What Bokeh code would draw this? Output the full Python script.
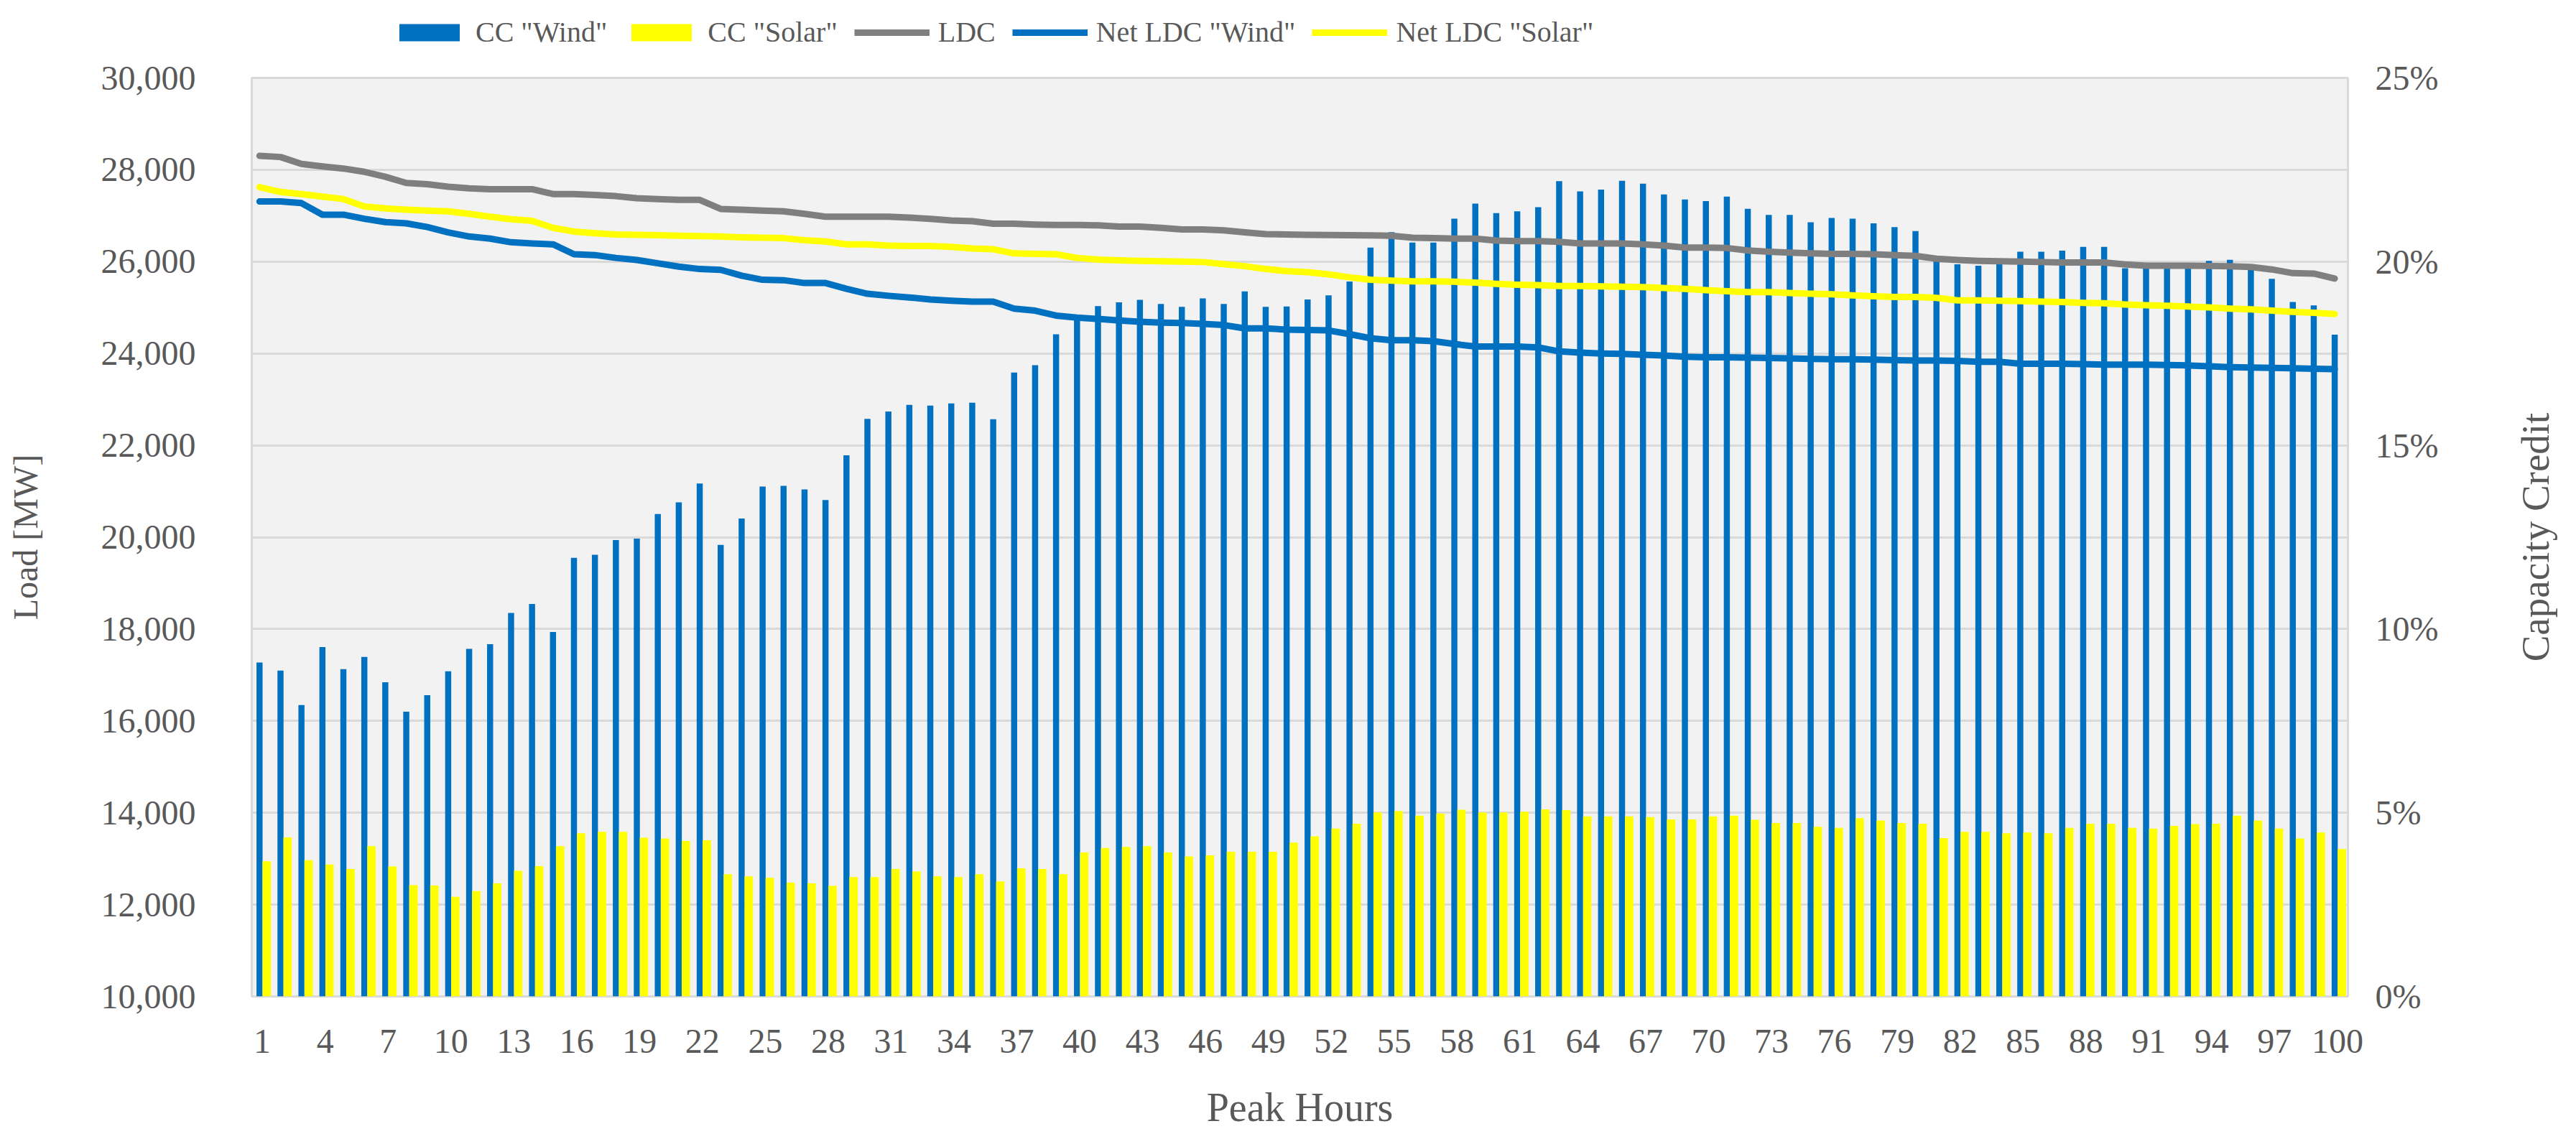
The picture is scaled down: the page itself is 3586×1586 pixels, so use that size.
import math

from bokeh.plotting import figure
from bokeh.layouts import column, row
from bokeh.models import (ColumnDataSource, Range1d, LinearAxis, FixedTicker, Label,
                          NumeralTickFormatter, PrintfTickFormatter, Legend, LegendItem)
from bokeh.transform import dodge
from bokeh.embed import file_html
from bokeh.resources import INLINE

# peak hours 1..100 and the axis ticks
hours = list(range(1, 101))
x_ticks = list(range(1, 101, 3))
load_ticks = list(range(10000, 30001, 2000))
cc_ticks = [0, 5, 10, 15, 20, 25]

# capacity credit [%] (right axis)
wind_cc = [9.09, 8.87, 7.93, 9.51, 8.91, 9.24, 8.55, 7.75, 8.20, 8.85,
           9.46, 9.59, 10.44, 10.68, 9.92, 11.94, 12.02, 12.42, 12.46, 13.13,
           13.45, 13.96, 12.29, 13.01, 13.88, 13.90, 13.80, 13.51, 14.73, 15.72,
           15.92, 16.10, 16.08, 16.14, 16.16, 15.71, 16.98, 17.18, 18.02, 18.44,
           18.79, 18.89, 18.96, 18.85, 18.77, 19.00, 18.85, 19.19, 18.77, 18.78,
           18.97, 19.08, 19.46, 20.38, 20.80, 20.52, 20.52, 21.17, 21.58, 21.32,
           21.37, 21.48, 22.19, 21.91, 21.96, 22.20, 22.12, 21.83, 21.69, 21.65,
           21.77, 21.44, 21.27, 21.27, 21.07, 21.19, 21.17, 21.04, 20.94, 20.83,
           20.13, 19.93, 19.89, 20.02, 20.27, 20.27, 20.30, 20.40, 20.40, 19.82,
           19.82, 19.82, 19.84, 20.02, 20.05, 19.82, 19.53, 18.90, 18.81, 18.01]

solar_cc = [3.68, 4.33, 3.71, 3.59, 3.47, 4.09, 3.54, 3.03, 3.02, 2.71,
            2.87, 3.08, 3.42, 3.55, 4.09, 4.44, 4.48, 4.48, 4.32, 4.30,
            4.23, 4.25, 3.33, 3.27, 3.23, 3.10, 3.08, 3.01, 3.25, 3.25,
            3.47, 3.40, 3.27, 3.25, 3.33, 3.13, 3.49, 3.47, 3.33, 3.92,
            4.04, 4.07, 4.09, 3.92, 3.81, 3.84, 3.94, 3.94, 3.94, 4.19,
            4.36, 4.57, 4.70, 5.01, 5.05, 4.92, 4.98, 5.08, 5.01, 5.01,
            5.03, 5.09, 5.07, 4.90, 4.90, 4.90, 4.88, 4.82, 4.82, 4.90,
            4.92, 4.81, 4.72, 4.72, 4.62, 4.59, 4.85, 4.79, 4.72, 4.70,
            4.31, 4.48, 4.48, 4.44, 4.46, 4.44, 4.59, 4.70, 4.70, 4.59,
            4.57, 4.64, 4.69, 4.70, 4.92, 4.79, 4.57, 4.30, 4.46, 4.01]

# load duration curves [MW] (left axis)
ldc = [28305, 28278, 28126, 28072, 28027, 27955, 27848, 27713, 27686, 27632,
       27596, 27578, 27578, 27578, 27471, 27471, 27453, 27426, 27381, 27363,
       27345, 27345, 27148, 27130, 27110, 27094, 27040, 26978, 26978, 26978,
       26978, 26960, 26933, 26897, 26879, 26825, 26825, 26807, 26798, 26798,
       26789, 26762, 26762, 26735, 26700, 26700, 26682, 26637, 26600, 26590,
       26585, 26580, 26574, 26570, 26565, 26520, 26511, 26502, 26502, 26457,
       26448, 26448, 26430, 26395, 26395, 26395, 26377, 26350, 26305, 26305,
       26296, 26242, 26215, 26197, 26180, 26170, 26170, 26161, 26143, 26126,
       26063, 26036, 26018, 26009, 26000, 25991, 25982, 25982, 25982, 25937,
       25910, 25910, 25910, 25905, 25900, 25883, 25830, 25749, 25740, 25632]

net_wind = [27309, 27309, 27274, 27022, 27022, 26933, 26861, 26834, 26753, 26637,
            26547, 26502, 26422, 26395, 26377, 26161, 26143, 26081, 26036, 25964,
            25892, 25839, 25821, 25695, 25605, 25596, 25534, 25534, 25408, 25300,
            25256, 25220, 25175, 25148, 25130, 25130, 24978, 24933, 24825, 24780,
            24753, 24717, 24691, 24673, 24664, 24646, 24619, 24547, 24547, 24520,
            24511, 24502, 24422, 24332, 24287, 24287, 24269, 24206, 24152, 24152,
            24152, 24134, 24045, 24018, 24000, 23991, 23973, 23955, 23928, 23919,
            23919, 23910, 23901, 23892, 23883, 23874, 23874, 23865, 23856, 23848,
            23848, 23839, 23821, 23821, 23776, 23776, 23776, 23767, 23758, 23758,
            23758, 23749, 23740, 23722, 23704, 23695, 23686, 23677, 23668, 23659]

net_solar = [27623, 27516, 27471, 27417, 27363, 27202, 27157, 27130, 27112, 27094,
             27040, 26978, 26924, 26888, 26735, 26655, 26619, 26592, 26583, 26574,
             26565, 26556, 26547, 26529, 26520, 26511, 26466, 26439, 26377, 26377,
             26350, 26341, 26341, 26323, 26287, 26269, 26179, 26170, 26161, 26081,
             26045, 26027, 26018, 26009, 26000, 25991, 25946, 25901, 25839, 25794,
             25770, 25722, 25659, 25605, 25587, 25570, 25570, 25561, 25543, 25516,
             25498, 25489, 25471, 25471, 25462, 25453, 25444, 25426, 25408, 25381,
             25354, 25336, 25336, 25318, 25300, 25291, 25265, 25247, 25229, 25229,
             25211, 25157, 25157, 25148, 25139, 25130, 25121, 25103, 25094, 25067,
             25049, 25040, 25022, 25004, 24978, 24960, 24933, 24906, 24888, 24861]

FONT = "Liberation Serif"
TEXT = "#595959"
BLUE = "#0070C0"
YELLOW = "#FFFF00"
GREY = "#7F7F7F"
W = 3440        # width of legend strip + chart
TW = 136        # width of the strip that holds the right axis title
H = 1576

src = ColumnDataSource(dict(hour=hours, wind_cc=wind_cc, solar_cc=solar_cc,
                            ldc=ldc, net_wind=net_wind, net_solar=net_solar))

p = figure(width=W, height=H - 70, output_backend="svg", toolbar_location=None,
           x_range=Range1d(0.5, 100.5), y_range=Range1d(10000, 30000),
           x_axis_label="Peak Hours", y_axis_label="Load [MW]")
p.extra_y_ranges = {"cc": Range1d(0, 25)}
p.min_border_left = 350
p.min_border_right = W - 3268
p.min_border_top = 38
p.min_border_bottom = 189
p.background_fill_color = "#F2F2F2"
p.border_fill_color = "white"
p.outline_line_color = "#D9D9D9"
p.outline_line_width = 3
p.xgrid.visible = False
p.ygrid.grid_line_color = "#D9D9D9"
p.ygrid.grid_line_width = 3

# bars on the capacity credit axis
p.vbar(x=dodge("hour", -0.13), top="wind_cc", bottom=0, width=0.29,
       source=src, y_range_name="cc", fill_color=BLUE, line_color=None)
p.vbar(x=dodge("hour", 0.21), top="solar_cc", bottom=0, width=0.4,
       source=src, y_range_name="cc", fill_color=YELLOW, line_color=None)

# load curves
for col, color in [("ldc", GREY), ("net_wind", BLUE), ("net_solar", YELLOW)]:
    p.line(dodge("hour", -0.13), col, source=src, color=color, line_width=9,
           line_join="round", line_cap="round")

right_axis = LinearAxis(y_range_name="cc")
p.add_layout(right_axis, "right")

p.xaxis.ticker = FixedTicker(ticks=x_ticks)
p.yaxis[0].ticker = FixedTicker(ticks=load_ticks)
p.yaxis[0].formatter = NumeralTickFormatter(format="0,0")
right_axis.ticker = FixedTicker(ticks=cc_ticks)
right_axis.formatter = PrintfTickFormatter(format="%d%%")

for ax in [p.xaxis[0], p.yaxis[0], right_axis]:
    ax.axis_line_color = None
    ax.major_tick_line_color = None
    ax.minor_tick_line_color = None
    ax.major_label_text_font = FONT
    ax.major_label_text_font_size = "48px"
    ax.major_label_text_color = TEXT
    ax.axis_label_text_font = FONT
    ax.axis_label_text_font_style = "normal"
    ax.axis_label_text_color = TEXT

p.yaxis[0].axis_label_text_font_size = "48px"
p.yaxis[0].major_label_standoff = 72
p.yaxis[0].axis_label_standoff = 76
right_axis.major_label_standoff = 32
p.xaxis[0].axis_label_text_font_size = "56px"
p.xaxis[0].major_label_standoff = 40
p.xaxis[0].axis_label_standoff = 42

# legend strip above the chart (dummy glyphs outside the strip's ranges)
lf = figure(width=W, height=70, output_backend="svg", toolbar_location=None,
            x_range=Range1d(0, 1), y_range=Range1d(0, 1),
            x_axis_type=None, y_axis_type=None, min_border=0)
lf.outline_line_color = None
lf.grid.visible = False
lg_wind = lf.vbar(x=[-5], top=[-5], bottom=-6, width=0.1, fill_color=BLUE, line_color=None)
lg_solar = lf.vbar(x=[-5], top=[-5], bottom=-6, width=0.1, fill_color=YELLOW, line_color=None)
lg_ldc = lf.line(x=[-5, -4], y=[-5, -5], color=GREY, line_width=9)
lg_nwind = lf.line(x=[-5, -4], y=[-5, -5], color=BLUE, line_width=9)
lg_nsolar = lf.line(x=[-5, -4], y=[-5, -5], color=YELLOW, line_width=9)

legend = Legend(items=[
    LegendItem(label='CC "Wind"', renderers=[lg_wind]),
    LegendItem(label='CC "Solar"', renderers=[lg_solar]),
    LegendItem(label="LDC", renderers=[lg_ldc]),
    LegendItem(label='Net LDC "Wind"', renderers=[lg_nwind]),
    LegendItem(label='Net LDC "Solar"', renderers=[lg_nsolar]),
], orientation="horizontal", location=(195, 2))
legend.label_text_font = FONT
legend.label_text_font_size = "40px"
legend.label_text_color = TEXT
legend.label_height = 46
legend.glyph_width = 105
legend.glyph_height = 30
legend.label_standoff = 12
legend.spacing = 23
legend.padding = 0
legend.margin = 0
legend.border_line_color = None
legend.background_fill_alpha = 0
lf.add_layout(legend, "center")

# right axis title, reading bottom to top
tf = figure(width=TW, height=H, output_backend="svg", toolbar_location=None,
            x_range=Range1d(0, 1), y_range=Range1d(0, 1),
            x_axis_type=None, y_axis_type=None, min_border=0)
tf.min_border_top = 108
tf.min_border_bottom = H - 1387
tf.outline_line_color = None
tf.grid.visible = False
tf.add_layout(Label(x=0.655, y=0.5, text="Capacity Credit", angle=math.pi / 2,
                    text_align="center", text_baseline="middle",
                    text_font=FONT, text_font_size="55px", text_color=TEXT))

layout = row(column(lf, p, spacing=0), tf, spacing=0)
open("out.html", "w").write(file_html(layout, INLINE))
